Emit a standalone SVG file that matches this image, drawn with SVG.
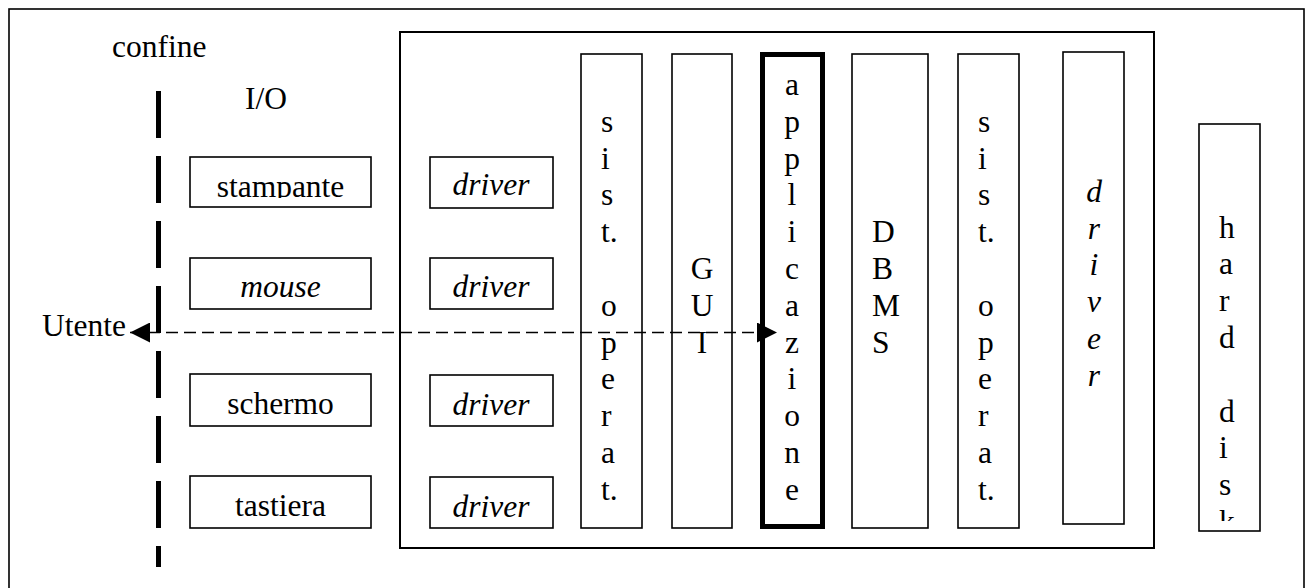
<svg xmlns="http://www.w3.org/2000/svg" width="1305" height="588" viewBox="0 0 1305 588">
  <style>
    text { font-family: "Liberation Serif", "Times New Roman", serif; font-size: 31.5px; fill: #000; }
    .it { font-style: italic; }
    .box { fill: #fff; stroke: #000; stroke-width: 1.6; }
    .mid { text-anchor: middle; }
  </style>
  <defs>
    <marker id="head" markerUnits="userSpaceOnUse" markerWidth="20" markerHeight="20" refX="20" refY="10" orient="auto-start-reverse">
      <path d="M0,0 L20,10 L0,20 Z" fill="#000"/>
    </marker>
    <clipPath id="clipStampante"><rect x="190" y="157" width="181" height="41"/></clipPath>
    <clipPath id="clipDisk"><rect x="1199" y="124" width="61" height="397"/></clipPath>
  </defs>

  <!-- page frame -->
  <rect x="9" y="9" width="1295" height="620" fill="#fff" stroke="#000" stroke-width="1.6"/>

  <g id="labels">
    <text x="112" y="57">confine</text>
    <text x="245" y="109">I/O</text>
    <text x="42" y="336">Utente</text>
  </g>

  <!-- system boundary -->
  <g id="boundary">
    <line x1="158.5" y1="91" x2="158.5" y2="567" stroke="#000" stroke-width="5" stroke-dasharray="47 18"/>
  </g>

  <!-- computer system -->
  <g id="system">
    <rect x="400" y="32" width="754" height="516" fill="none" stroke="#000" stroke-width="2"/>
  </g>

  <!-- I/O devices -->
  <g id="stampante">
    <rect class="box" x="190" y="157" width="181" height="50"/>
    <text class="mid" x="280.5" y="197" clip-path="url(#clipStampante)">stampante</text>
  </g>
  <g id="mouse">
    <rect class="box" x="190" y="258" width="181" height="51"/>
    <text class="mid it" x="280.5" y="297">mouse</text>
  </g>
  <g id="schermo">
    <rect class="box" x="190" y="374" width="181" height="52"/>
    <text class="mid" x="280.5" y="414">schermo</text>
  </g>
  <g id="tastiera">
    <rect class="box" x="190" y="476" width="181" height="52"/>
    <text class="mid" x="280.5" y="516">tastiera</text>
  </g>

  <!-- device drivers -->
  <g id="driver1">
    <rect class="box" x="430" y="157" width="123" height="51"/>
    <text class="mid it" x="491" y="195">driver</text>
  </g>
  <g id="driver2">
    <rect class="box" x="430" y="258" width="123" height="51"/>
    <text class="mid it" x="491" y="297">driver</text>
  </g>
  <g id="driver3">
    <rect class="box" x="430" y="375" width="123" height="51"/>
    <text class="mid it" x="491" y="415">driver</text>
  </g>
  <g id="driver4">
    <rect class="box" x="430" y="477" width="123" height="51"/>
    <text class="mid it" x="491" y="517">driver</text>
  </g>

  <!-- software layers -->
  <g id="sistop1">
    <rect class="box" x="581" y="54" width="61" height="474"/>
    <text x="601" y="131.8">
      <tspan x="601">s</tspan><tspan x="601" dy="36.8">i</tspan><tspan x="601" dy="36.8">s</tspan><tspan x="601" dy="36.8">t.</tspan>
      <tspan x="601" dy="73.6">o</tspan><tspan x="601" dy="36.8">p</tspan><tspan x="601" dy="36.8">e</tspan><tspan x="601" dy="36.8">r</tspan><tspan x="601" dy="36.8">a</tspan><tspan x="601" dy="36.8">t.</tspan>
    </text>
  </g>
  <g id="gui">
    <rect class="box" x="672" y="54" width="60" height="474"/>
    <text class="mid" x="702" y="279">
      <tspan x="702">G</tspan><tspan x="702" dy="36.8">U</tspan><tspan x="702" dy="36.8">I</tspan>
    </text>
  </g>
  <g id="applicazione">
    <rect x="762.5" y="54.5" width="60" height="472" fill="#fff" stroke="#000" stroke-width="5"/>
    <text class="mid" x="792" y="95">
      <tspan x="792">a</tspan><tspan x="792" dy="36.8">p</tspan><tspan x="792" dy="36.8">p</tspan><tspan x="792" dy="36.8">l</tspan><tspan x="792" dy="36.8">i</tspan><tspan x="792" dy="36.8">c</tspan><tspan x="792" dy="36.8">a</tspan><tspan x="792" dy="36.8">z</tspan><tspan x="792" dy="36.8">i</tspan><tspan x="792" dy="36.8">o</tspan><tspan x="792" dy="36.8">n</tspan><tspan x="792" dy="36.8">e</tspan>
    </text>
  </g>
  <g id="dbms">
    <rect class="box" x="852" y="54" width="76" height="474"/>
    <text x="872" y="242.2">
      <tspan x="872">D</tspan><tspan x="872" dy="36.8">B</tspan><tspan x="872" dy="36.8">M</tspan><tspan x="872" dy="36.8">S</tspan>
    </text>
  </g>
  <g id="sistop2">
    <rect class="box" x="958" y="54" width="61" height="474"/>
    <text x="978" y="131.8">
      <tspan x="978">s</tspan><tspan x="978" dy="36.8">i</tspan><tspan x="978" dy="36.8">s</tspan><tspan x="978" dy="36.8">t.</tspan>
      <tspan x="978" dy="73.6">o</tspan><tspan x="978" dy="36.8">p</tspan><tspan x="978" dy="36.8">e</tspan><tspan x="978" dy="36.8">r</tspan><tspan x="978" dy="36.8">a</tspan><tspan x="978" dy="36.8">t.</tspan>
    </text>
  </g>
  <g id="driver5">
    <rect class="box" x="1063" y="52" width="61" height="472"/>
    <text class="mid it" x="1094" y="201.7">
      <tspan x="1094">d</tspan><tspan x="1094" dy="36.8">r</tspan><tspan x="1094" dy="36.8">i</tspan><tspan x="1094" dy="36.8">v</tspan><tspan x="1094" dy="36.8">e</tspan><tspan x="1094" dy="36.8">r</tspan>
    </text>
  </g>

  <!-- storage -->
  <g id="harddisk">
    <rect class="box" x="1199" y="124" width="61" height="407"/>
    <text x="1219" y="237.5" clip-path="url(#clipDisk)">
      <tspan x="1219">h</tspan><tspan x="1219" dy="36.8">a</tspan><tspan x="1219" dy="36.8">r</tspan><tspan x="1219" dy="36.8">d</tspan>
      <tspan x="1219" dy="73.6">d</tspan><tspan x="1219" dy="36.8">i</tspan><tspan x="1219" dy="36.8">s</tspan><tspan x="1219" dy="36.8">k</tspan>
    </text>
  </g>

  <!-- interaction between user and application -->
  <g id="connectors">
    <line x1="130" y1="332.5" x2="777" y2="332.5" stroke="#000" stroke-width="1.5" stroke-dasharray="12 6" marker-start="url(#head)" marker-end="url(#head)"/>
  </g>
</svg>
